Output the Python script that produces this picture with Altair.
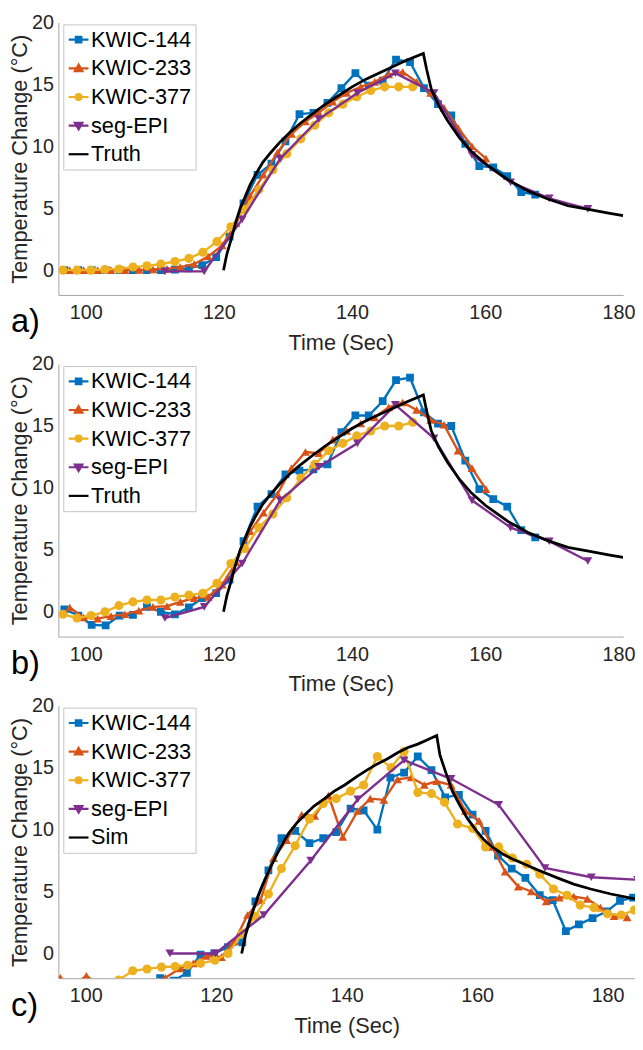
import altair as alt
import pandas as pd

FONT = "Liberation Sans"
TXT = "#262626"
AXC = "#a6a6a6"

NAMES_AB = ["KWIC-144", "KWIC-233", "KWIC-377", "seg-EPI", "Truth"]
NAMES_C = ["KWIC-144", "KWIC-233", "KWIC-377", "seg-EPI", "Sim"]
COLORS = ["#0072BD", "#D95319", "#EDB120", "#7E2F8E", "#000000"]
SHAPES = ["square", "triangle-up", "circle", "triangle-down"]
SIZES = [62, 80, 85, 80]
LEG_PATHS = [
    "M-1,0H1M-0.28,-0.28H0.28V0.28H-0.28Z",
    "M-1,0H1M0,-0.38L0.38,0.28L-0.38,0.28Z",
    "M-1,0H1M0.3,0A0.3,0.3,0,1,1,-0.3,0A0.3,0.3,0,1,1,0.3,0Z",
    "M-1,0H1M0,0.38L0.38,-0.28L-0.38,-0.28Z",
    "M-1,0H1",
]
X_TICKS = [100, 120, 140, 160, 180]
Y_TICKS = [0, 5, 10, 15, 20]

# ---------------- acquisition times (panels a and b) ----------------
T144_AB = [96.8, 98.9, 100.9, 103.0, 105.1, 107.1, 109.2, 111.3, 113.4, 115.5, 117.5, 119.6,
           121.6, 123.7, 125.8, 127.9, 130.0, 132.1, 134.2, 136.3, 138.4, 140.5, 142.5, 144.6,
           146.6, 148.7, 150.8, 152.9, 154.9, 157.0, 159.1, 161.2, 163.3, 165.4, 167.5]
T233_AB = [97.6, 99.7, 101.8, 103.8, 105.9, 108.0, 110.1, 112.2, 114.2, 116.3, 118.4, 120.5,
           122.6, 124.7, 126.7, 128.8, 130.9, 133.0, 135.0, 137.1, 139.2, 141.3, 143.4, 145.5,
           147.6, 149.7, 151.8, 153.8, 155.9, 158.0, 160.1]
T377_AB = [96.6, 98.7, 100.8, 102.9, 105.0, 107.1, 109.2, 111.3, 113.4, 115.5, 117.6, 119.7,
           121.8, 123.9, 126.0, 128.1, 130.2, 132.3, 134.4, 136.5, 138.6, 140.7, 142.8, 144.9,
           147.0, 149.1]
TEPI_AB = [111.9, 117.8, 123.5, 129.2, 135.0, 140.8, 146.5, 152.3, 158.0, 163.8, 169.6, 175.4]
TTRUTH = [120.7, 121.2, 121.8, 122.5, 123.2, 124.0, 124.7, 125.6, 126.6, 127.8, 129.1, 130.6,
          132.1, 134.0, 136.0, 138.0, 140.0, 142.0, 144.0, 146.0, 148.0, 150.7, 151.2, 151.9,
          153.0, 154.3, 156.1, 157.9, 160.0, 163.4, 166.4, 169.4, 172.4, 175.5, 178.5, 180.7]
VTRUTH = [0.0, 1.3, 2.4, 3.8, 5.0, 6.0, 6.9, 7.8, 8.7, 9.5, 10.3, 11.1,
          11.8, 12.6, 13.4, 14.1, 14.8, 15.4, 15.9, 16.4, 16.9, 17.5, 16.2, 14.6,
          13.3, 12.1, 10.7, 9.6, 8.6, 7.3, 6.4, 5.75, 5.2, 4.9, 4.6, 4.4]

# ---------------- panel a ----------------
A144 = [0, 0, 0, 0, 0, 0, 0, 0, 0.05, 0.15, 0.4, 1.05, 2.7, 5.4, 7.7, 8.6, 10.4, 12.6, 12.7,
        13.5, 14.7, 15.9, 14.9, 15.3, 17.0, 16.8, 14.7, 13.4, 12.5, 10.2, 8.4, 8.3, 7.6, 6.3, 6.1]
A233 = [0, 0, 0, 0, 0, 0.02, 0.05, 0.1, 0.25, 0.5, 1.1, 2.0, 3.8, 6.0, 7.7, 9.5, 11.0, 12.0,
        12.7, 13.6, 14.3, 14.8, 15.2, 15.8, 16.0, 15.2, 14.3, 13.1, 11.5, 10.0, 9.0]
A377 = [0.0, 0.0, 0.0, 0.05, 0.1, 0.25, 0.35, 0.5, 0.7, 0.95, 1.45, 2.3, 3.5, 4.9, 6.5, 8.1,
        9.4, 10.6, 11.7, 12.7, 13.4, 14.0, 14.5, 14.8, 14.8, 14.8]
AEPI = [-0.1, -0.1, 4.1, 9.0, 12.2, 14.3, 15.9, 14.3, 9.3, 7.1, 5.8, 4.95]

# ---------------- panel b ----------------
B144 = [0.2, -0.3, -1.05, -1.1, -0.3, -0.25, 0.4, 0.0, -0.2, 0.35, 1.1, 1.5, 2.6, 5.7, 8.5, 9.5,
        11.1, 11.4, 11.5, 11.9, 14.5, 15.85, 15.85, 17.0, 18.7, 18.9, 16.1, 15.2, 15.0, 12.2,
        9.9, 9.1, 8.5, 6.6, 6.0]
B233 = [0.35, -0.45, -0.55, -0.35, -0.2, 0.1, 0.4, 0.45, 0.8, 1.1, 1.2, 2.2, 4.0, 6.5, 8.0,
        9.5, 11.6, 12.9, 12.8, 13.9, 14.6, 15.2, 15.7, 16.5, 16.9, 16.3, 15.5, 15.1, 13.0,
        11.6, 9.9]
B377 = [-0.2, -0.5, -0.3, 0.0, 0.5, 0.8, 0.95, 0.95, 1.2, 1.35, 1.5, 2.3, 3.9, 5.1, 6.8, 7.9,
        9.2, 10.8, 11.9, 13.0, 13.6, 14.2, 14.6, 15.0, 15.0, 15.3]
BEPI = [-0.5, 0.4, 3.9, 9.0, 11.7, 13.6, 16.7, 14.0, 9.0, 6.8, 5.7, 4.1]

# ---------------- panel c ----------------
C144_T = [111.4, 113.5, 115.5, 117.6, 119.7, 121.8, 124.0, 126.0, 128.0, 130.0, 132.1, 134.3,
          136.4, 138.4, 140.6, 142.6, 144.7, 146.7, 148.8, 150.9, 153.0, 155.1, 157.2, 159.3,
          161.3, 163.2, 165.3, 167.4, 169.6, 171.6, 173.6, 175.6, 177.7, 179.9, 181.9, 183.9]
C144 = [-2.0, -2.2, -1.57, -0.1, 0.0, 0.5, 0.9, 4.2, 6.7, 9.3, 9.9, 8.9, 9.3, 9.8, 11.7, 11.55,
        10.0, 14.2, 14.6, 15.9, 14.8, 12.6, 12.8, 11.2, 9.9, 7.9, 6.85, 6.1, 4.7, 4.3, 1.8,
        2.35, 2.85, 3.4, 4.25, 4.5]
C233_T = [96.1, 98.1, 100.1, 102.1, 104.1, 106.2, 108.2, 110.2, 112.2, 114.5, 116.5, 118.5,
          120.8, 122.8, 124.8, 126.8, 128.8, 130.8, 133.1, 135.1, 137.2, 139.4, 141.7, 143.6,
          145.7, 147.8, 149.9, 151.9, 153.8, 156.0, 158.2, 160.3, 162.3, 164.3, 166.3, 168.3,
          170.6, 172.6, 174.8, 176.9, 178.9, 181.0, 183.0]
C233 = [-1.96, -2.6, -1.8, -2.6, -2.9, -2.8, -2.6, -2.3, -1.96, -1.2, -0.8, -0.2, -0.3, 1.0,
        3.1, 4.3, 7.7, 9.15, 11.2, 11.1, 12.75, 9.4, 11.5, 12.5, 12.4, 14.05, 14.2, 13.6, 13.9,
        13.6, 11.5, 10.7, 8.6, 6.6, 5.4, 5.0, 4.2, 4.5, 4.6, 4.4, 3.7, 3.0, 2.9]
C377_T = [96.6, 98.7, 100.8, 102.9, 105.05, 107.2, 109.4, 111.6, 113.7, 115.6, 117.6, 119.8,
          121.8, 124.0, 126.0, 128.0, 130.0, 132.1, 134.3, 136.4, 138.4, 140.6, 142.6, 144.7,
          146.8, 148.8, 150.9, 153.0, 155.0, 157.0, 159.3, 161.3, 163.3, 165.4, 167.6, 169.6,
          171.7, 173.8, 175.8, 177.9, 180.0, 182.1, 184.1]
C377 = [-2.7, -2.5, -2.8, -2.6, -2.15, -1.4, -1.25, -1.1, -1.05, -0.95, -0.8, -0.55, 0.0, 1.6,
        3.0, 4.8, 6.85, 8.7, 10.85, 12.1, 12.5, 13.1, 13.6, 15.9, 15.0, 16.3, 13.0, 12.9, 12.2,
        10.45, 10.1, 8.6, 8.6, 7.7, 7.2, 6.4, 5.2, 4.7, 3.9, 3.7, 3.2, 3.1, 3.5]
CEPI_T = [112.9, 119.9, 127.3, 134.5, 141.7, 148.8, 156.0, 163.3, 170.4, 177.5, 184.6]
CEPI = [0.0, 0.0, 3.1, 7.5, 12.45, 15.6, 14.1, 12.0, 6.9, 6.15, 5.95]
CSIM_T = [123.9, 124.5, 125.3, 126.2, 127.1, 128.1, 129.1, 130.1, 131.1, 132.3, 133.6, 135.0,
          136.6, 138.1, 139.7, 141.6, 143.1, 144.7, 146.2, 147.8, 149.3, 150.9, 152.4, 153.8,
          154.3, 155.2, 156.2, 157.3, 158.5, 159.9, 161.0, 162.3, 164.0, 165.5, 167.3, 169.5,
          172.3, 174.8, 177.4, 180.5, 184.2]
CSIM = [0.0, 1.5, 2.9, 4.3, 5.5, 6.7, 7.8, 8.8, 9.7, 10.5, 11.2, 11.9, 12.5, 13.1, 13.6, 14.3,
        14.8, 15.3, 15.7, 16.2, 16.6, 16.9, 17.25, 17.6, 16.0, 14.6, 13.1, 12.0, 10.9, 9.9,
        9.2, 8.6, 8.0, 7.6, 7.2, 6.7, 6.1, 5.6, 5.2, 4.8, 4.4]

PLOT_H = 276


def panel(label, series, ref, names, xdom, width):
    xs = alt.Scale(domain=xdom, nice=False, zero=False)
    ys = alt.Scale(domain=[-2, 20], nice=False, zero=False)
    xenc = alt.X("t:Q", scale=xs, axis=alt.Axis(values=X_TICKS, title="Time (Sec)"))
    yenc = alt.Y("v:Q", scale=ys, axis=alt.Axis(values=Y_TICKS, title="Temperature Change (°C)"))
    layers = []
    for i, (tt, vv) in enumerate(series):
        df = pd.DataFrame({"t": tt, "v": vv})
        base = alt.Chart(df).encode(x=xenc, y=yenc, order="t:Q")
        layers.append(base.mark_line(color=COLORS[i], strokeWidth=2.4, clip=True))
        layers.append(base.mark_point(shape=SHAPES[i], filled=True, size=SIZES[i],
                                      color=COLORS[i], opacity=1, clip=True))
    rdf = pd.DataFrame({"t": ref[0], "v": ref[1]})
    layers.append(alt.Chart(rdf).mark_line(color="black", strokeWidth=2.8, clip=True)
                  .encode(x=xenc, y=yenc, order="t:Q"))
    leg = alt.Legend(orient="none", legendX=5, legendY=2, title=None, direction="vertical",
                     labelFont=FONT, labelFontSize=22, labelColor="black",
                     symbolSize=400, symbolStrokeWidth=2.2, labelOffset=1,
                     strokeColor="#c4c4c4", fillColor="white", padding=4, rowPadding=6)
    ldf = pd.DataFrame({"name": names, "t": [xdom[0] + 1] * len(names), "v": [-60] * len(names)})
    layers.append(alt.Chart(ldf).mark_point(filled=True, opacity=1, clip=True).encode(
        x=xenc, y=yenc,
        fill=alt.Fill("name:N", scale=alt.Scale(domain=names, range=COLORS), legend=leg),
        stroke=alt.Stroke("name:N", scale=alt.Scale(domain=names, range=COLORS), legend=leg),
        shape=alt.Shape("name:N", scale=alt.Scale(domain=names, range=LEG_PATHS), legend=leg),
    ))
    tdf = pd.DataFrame({"lab": [label]})
    layers.append(alt.Chart(tdf).mark_text(align="left", baseline="middle", fontSize=33,
                                           font=FONT, color="black")
                  .encode(text="lab:N", x=alt.value(-48), y=alt.value(PLOT_H + 28)))
    return alt.layer(*layers).properties(width=width, height=PLOT_H)


pa = panel("a)", [(T144_AB, A144), (T233_AB, A233), (T377_AB, A377), (TEPI_AB, AEPI)],
           (TTRUTH, VTRUTH), NAMES_AB, [95.9, 180.7], 572)
pb = panel("b)", [(T144_AB, B144), (T233_AB, B233), (T377_AB, B377), (TEPI_AB, BEPI)],
           (TTRUTH, VTRUTH), NAMES_AB, [95.9, 180.7], 572)
pc = panel("c)", [(C144_T, C144), (C233_T, C233), (C377_T, C377), (CEPI_T, CEPI)],
           (CSIM_T, CSIM), NAMES_C, [95.8, 184.2], 584)

chart = (
    alt.vconcat(pa, pb, pc, spacing=70, bounds="flush")
    .resolve_scale(x="independent", y="independent", fill="independent",
                   stroke="independent", shape="independent")
    .resolve_legend(fill="independent", stroke="independent", shape="independent")
    .properties(padding={"left": 0, "top": -2, "right": 0, "bottom": 0})
    .configure(font=FONT)
    .configure_view(stroke=None)
    .configure_axis(grid=False, ticks=False, domainColor=AXC, domainWidth=1,
                    labelFont=FONT, titleFont=FONT, labelColor=TXT, titleColor=TXT,
                    labelFontSize=20, titleFontSize=22, titleFontWeight="normal")
    .configure_axisX(labelPadding=8, titlePadding=10)
    .configure_axisY(labelPadding=5, titlePadding=0)
)

chart.save("out.html", embed_options={"renderer": "svg", "actions": False})
